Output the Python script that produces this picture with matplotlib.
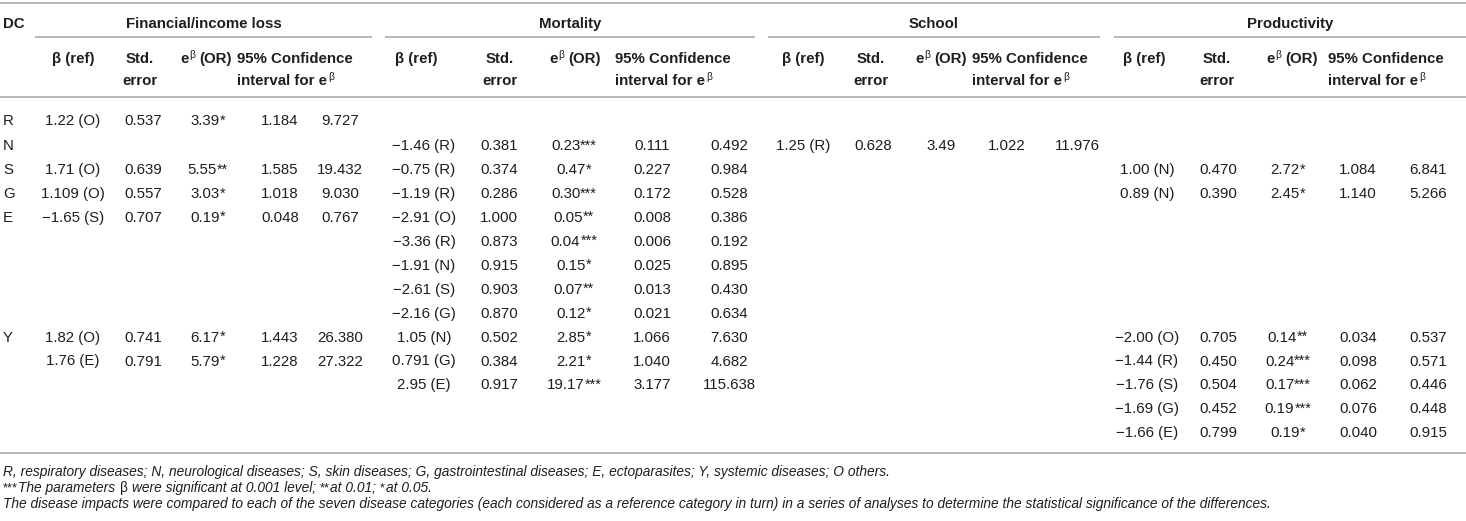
import matplotlib
matplotlib.use("Agg")
import matplotlib.pyplot as plt

# ---- table values ----
row_labels = ["R", "N", "S", "G", "E", "", "", "", "", "Y", "", "", "", ""]

groups = ["Financial/income loss", "Mortality", "School", "Productivity"]

fin_rows = [0, 2, 3, 4, 9, 10]
fin_beta = ["1.22 (O)", "1.71 (O)", "1.109 (O)", "\u22121.65 (S)", "1.82 (O)", "1.76 (E)"]
fin_se = ["0.537", "0.639", "0.557", "0.707", "0.741", "0.791"]
fin_or = ["3.39", "5.55", "3.03", "0.19", "6.17", "5.79"]
fin_sig = ["*", "**", "*", "*", "*", "*"]
fin_lo = ["1.184", "1.585", "1.018", "0.048", "1.443", "1.228"]
fin_hi = ["9.727", "19.432", "9.030", "0.767", "26.380", "27.322"]

mort_rows = [1, 2, 3, 4, 5, 6, 7, 8, 9, 10, 11]
mort_beta = ["\u22121.46 (R)", "\u22120.75 (R)", "\u22121.19 (R)", "\u22122.91 (O)",
             "\u22123.36 (R)", "\u22121.91 (N)", "\u22122.61 (S)", "\u22122.16 (G)",
             "1.05 (N)", "0.791 (G)", "2.95 (E)"]
mort_se = ["0.381", "0.374", "0.286", "1.000", "0.873", "0.915", "0.903", "0.870",
           "0.502", "0.384", "0.917"]
mort_or = ["0.23", "0.47", "0.30", "0.05", "0.04", "0.15", "0.07", "0.12",
           "2.85", "2.21", "19.17"]
mort_sig = ["***", "*", "***", "**", "***", "*", "**", "*", "*", "*", "***"]
mort_lo = ["0.111", "0.227", "0.172", "0.008", "0.006", "0.025", "0.013", "0.021",
           "1.066", "1.040", "3.177"]
mort_hi = ["0.492", "0.984", "0.528", "0.386", "0.192", "0.895", "0.430", "0.634",
           "7.630", "4.682", "115.638"]

school_rows = [1]
school_beta = ["1.25 (R)"]
school_se = ["0.628"]
school_or = ["3.49"]
school_sig = [""]
school_lo = ["1.022"]
school_hi = ["11.976"]

prod_rows = [2, 3, 9, 10, 11, 12, 13]
prod_beta = ["1.00 (N)", "0.89 (N)", "\u22122.00 (O)", "\u22121.44 (R)", "\u22121.76 (S)",
             "\u22121.69 (G)", "\u22121.66 (E)"]
prod_se = ["0.470", "0.390", "0.705", "0.450", "0.504", "0.452", "0.799"]
prod_or = ["2.72", "2.45", "0.14", "0.24", "0.17", "0.19", "0.19"]
prod_sig = ["*", "*", "**", "***", "***", "***", "*"]
prod_lo = ["1.084", "1.140", "0.034", "0.098", "0.062", "0.076", "0.040"]
prod_hi = ["6.841", "5.266", "0.537", "0.571", "0.446", "0.448", "0.915"]

footnote1 = ("R, respiratory diseases; N, neurological diseases; S, skin diseases; "
             "G, gastrointestinal diseases; E, ectoparasites; Y, systemic diseases; O others.")
footnote3 = ("The disease impacts were compared to each of the seven disease categories "
             "(each considered as a reference category in turn) in a series of analyses "
             "to determine the statistical significance of the differences.")

# ---- layout (pixels) ----
W, H = 1466, 521
FONT = "Liberation Sans"
INK = "#1e1e1e"
RULE = "#b8b8b8"
FS = 10.8          # body font size, pt
FS_NOTE = 9.9

# column centres per group: beta, se, or, lo, hi ; header CI left edge
cols = [
    dict(span=(35, 372), beta=73, se=143, orr=208, lo=280, hi=340, h_beta=73, h_se=140, h_or=206, h_ci=237),
    dict(span=(385, 755), beta=424, se=499, orr=574, lo=652, hi=729, h_beta=416, h_se=500, h_or=575, h_ci=615),
    dict(span=(768, 1100), beta=803, se=873, orr=941, lo=1007, hi=1077, h_beta=803, h_se=871, h_or=941, h_ci=972),
    dict(span=(1114, 1466), beta=1147, se=1218, orr=1288, lo=1358, hi=1428, h_beta=1144, h_se=1217, h_or=1292, h_ci=1328),
]


def row_y(i):
    if i == 0:
        return 120
    return 145 + 23.9 * (i - 1)


fig = plt.figure(figsize=(W / 100, H / 100), dpi=100)
ax = fig.add_axes([0, 0, 1, 1])
ax.set_xlim(0, W)
ax.set_ylim(H, 0)
ax.axis("off")
renderer = fig.canvas.get_renderer()


def put_runs(x, yc, runs, ha="left", size=FS):
    """Draw (text, kind, gap) runs; kind: b=bold, i=italic, s=small raised, a=asterisk."""
    px = size * 100 / 72
    base = yc + 0.36 * px
    items = []
    for txt, kind, gap in runs:
        if "s" in kind:
            fs, y = size * 0.68, base - 0.34 * px
        elif "a" in kind:
            fs, y = size * 0.95, base - 0.06 * px
        else:
            fs, y = size, base
        t = ax.text(0, y, txt, fontsize=fs, family=FONT, color=INK,
                    weight="bold" if "b" in kind else "normal",
                    style="italic" if "i" in kind else "normal",
                    ha="left", va="baseline")
        w = t.get_window_extent(renderer).width
        items.append((t, w, gap))
    total = sum(w + g for _, w, g in items)
    if ha == "center":
        x0 = x - total / 2
    elif ha == "right":
        x0 = x - total
    else:
        x0 = x
    for t, w, g in items:
        x0 += g
        t.set_x(x0)
        x0 += w


def hline(y, x0=0, x1=W):
    ax.plot([x0, x1], [y, y], color=RULE, lw=1.4, solid_capstyle="butt")


# rules
hline(3)
hline(97)
hline(453)
for c in cols:
    hline(37, *c["span"])

# header
put_runs(3, 23, [("DC", "b", 0)])
for name, c in zip(groups, cols):
    put_runs((c["span"][0] + c["span"][1]) / 2, 23, [(name, "b", 0)], ha="center")
    put_runs(c["h_beta"], 58, [("\u03b2 (ref)", "b", 0)], ha="center")
    put_runs(c["h_se"], 58, [("Std.", "b", 0)], ha="center")
    put_runs(c["h_se"], 80, [("error", "b", 0)], ha="center")
    put_runs(c["h_or"], 58, [("e", "b", 0), ("\u03b2", "s", 1), ("(OR)", "b", 4)], ha="center")
    put_runs(c["h_ci"], 58, [("95% Confidence", "b", 0)])
    put_runs(c["h_ci"], 80, [("interval for e", "b", 0), ("\u03b2", "s", 1)])

# row labels
for i, lab in enumerate(row_labels):
    if lab:
        put_runs(3, row_y(i), [(lab, "", 0)])

# body
data = [
    (fin_rows, fin_beta, fin_se, fin_or, fin_sig, fin_lo, fin_hi),
    (mort_rows, mort_beta, mort_se, mort_or, mort_sig, mort_lo, mort_hi),
    (school_rows, school_beta, school_se, school_or, school_sig, school_lo, school_hi),
    (prod_rows, prod_beta, prod_se, prod_or, prod_sig, prod_lo, prod_hi),
]
for c, (rows, beta, se, orr, sig, lo, hi) in zip(cols, data):
    for k, r in enumerate(rows):
        y = row_y(r)
        put_runs(c["beta"], y, [(beta[k], "", 0)], ha="center")
        put_runs(c["se"], y, [(se[k], "", 0)], ha="center")
        runs = [(orr[k], "", 0)]
        if sig[k]:
            runs.append((sig[k], "a", 0))
        put_runs(c["orr"], y, runs, ha="center")
        put_runs(c["lo"], y, [(lo[k], "", 0)], ha="center")
        put_runs(c["hi"], y, [(hi[k], "", 0)], ha="center")

# footnotes
put_runs(3, 471, [(footnote1, "i", 0)], size=FS_NOTE)
put_runs(3, 487, [("***", "a", 0), ("The parameters", "i", 0.5), ("\u03b2", "", 4),
                  ("were significant at 0.001 level;", "i", 4), ("**", "a", 4),
                  ("at 0.01;", "i", 0.5), ("*", "a", 4), ("at 0.05.", "i", 0.5)], size=FS_NOTE)
put_runs(3, 503, [(footnote3, "i", 0)], size=FS_NOTE)

fig.savefig("out.png", dpi=100)
